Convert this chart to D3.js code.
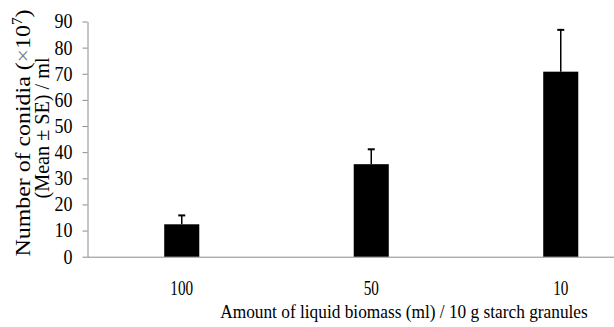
<!DOCTYPE html>
<html>
<head>
<meta charset="utf-8">
<script src="https://cdn.jsdelivr.net/npm/d3@7"></script>
<style>
  body { margin: 0; background: #fff; }
  text { font-family: "Liberation Serif", "Times New Roman", serif; fill: #000; }
</style>
</head>
<body>
<svg id="chart" width="614" height="327"></svg>
<script>
// data
const categories = ["100", "50", "10"];
const means = [12.4, 35.4, 70.8];
const errors = [3.4, 5.7, 16.0];
const yTicks = [0, 10, 20, 30, 40, 50, 60, 70, 80, 90];

const rows = categories.map((c, i) => ({cat: c, mean: means[i], se: errors[i]}));

const svg = d3.select("#chart");

// x band scale runs past the right edge, like the source image
const xScale = d3.scaleBand()
    .domain(categories)
    .range([87, 655.5])
    .paddingInner(0.815)
    .paddingOuter(0.4075);

const yScale = d3.scaleLinear()
    .domain([0, 90])
    .range([256.7, 21.5]);

// y axis
const yAxis = d3.axisLeft(yScale).tickValues(yTicks).tickSize(5).tickSizeOuter(0);
const yG = svg.append("g")
    .attr("transform", "translate(87.5,0)")
    .call(yAxis);
yG.select(".domain").attr("stroke", "#8c8c8c");
yG.selectAll(".tick line").attr("stroke", "#8c8c8c");
yG.selectAll(".tick text")
    .attr("x", 0)
    .attr("font-size", 20)
    .attr("font-family", "Liberation Serif")
    .attr("fill", "#000")
    .attr("transform", "translate(-15,0) scale(0.9,1)");

// x axis baseline
svg.append("line")
    .attr("x1", 87.5).attr("x2", 614)
    .attr("y1", yScale(0) + 0.5).attr("y2", yScale(0) + 0.5)
    .attr("stroke", "#8c8c8c");

// bars
svg.selectAll("rect.bar")
    .data(rows)
    .join("rect")
    .attr("class", "bar")
    .attr("x", d => xScale(d.cat))
    .attr("y", d => yScale(d.mean))
    .attr("width", xScale.bandwidth())
    .attr("height", d => yScale(0) - yScale(d.mean))
    .attr("fill", "#000");

// error bars (upper only)
const cx = d => xScale(d.cat) + xScale.bandwidth() / 2;
svg.selectAll("line.err")
    .data(rows)
    .join("line")
    .attr("class", "err")
    .attr("x1", cx).attr("x2", cx)
    .attr("y1", d => yScale(d.mean))
    .attr("y2", d => yScale(d.mean + d.se))
    .attr("stroke", "#000")
    .attr("stroke-width", 1.5);
svg.selectAll("line.cap")
    .data(rows)
    .join("line")
    .attr("class", "cap")
    .attr("x1", d => cx(d) - 3.5).attr("x2", d => cx(d) + 3.5)
    .attr("y1", d => yScale(d.mean + d.se))
    .attr("y2", d => yScale(d.mean + d.se))
    .attr("stroke", "#000")
    .attr("stroke-width", 2);

// category labels (source text is narrow and tall)
svg.selectAll("text.cat")
    .data(rows)
    .join("text")
    .attr("class", "cat")
    .attr("transform", d => `translate(${cx(d)},295) scale(0.76,1)`)
    .attr("text-anchor", "middle")
    .attr("font-size", 20)
    .text(d => d.cat);

// x title, squeezed horizontally to ~368px like the source
const xt = svg.append("text")
    .attr("text-anchor", "middle")
    .attr("font-size", 19)
    .text("Amount of liquid biomass (ml)  / 10 g starch granules");
const xtScale = 368 / xt.node().getComputedTextLength();
xt.attr("transform", `translate(404,318) scale(${xtScale},1)`);

// y title, two lines
const yt = svg.append("text")
    .attr("transform", "translate(30,133) rotate(-90)")
    .attr("text-anchor", "middle")
    .attr("font-size", 22)
    .attr("textLength", 247)
    .attr("lengthAdjust", "spacingAndGlyphs");
yt.append("tspan").text("Number of conidia (");
yt.append("tspan").attr("fill", "#777").text("\u00d7");
yt.append("tspan").text("10");
yt.append("tspan").attr("dy", -8).attr("font-size", 14).text("7");
yt.append("tspan").attr("dy", 8).text(")");

svg.append("text")
    .attr("transform", "translate(48.5,128) rotate(-90)")
    .attr("text-anchor", "middle")
    .attr("font-size", 22)
    .attr("textLength", 141)
    .attr("lengthAdjust", "spacingAndGlyphs")
    .text("(Mean \u00b1 SE) / ml");
</script>
</body>
</html>
